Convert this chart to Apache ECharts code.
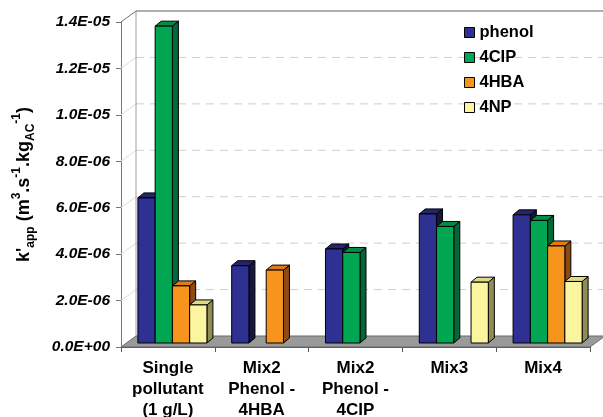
<!DOCTYPE html>
<html>
<head>
<meta charset="utf-8">
<script src="https://cdn.jsdelivr.net/npm/echarts@6/dist/echarts.min.js"></script>
<style>html,body{margin:0;padding:0;background:#fff}#c{width:603px;height:417px}</style>
</head>
<body>
<div id="c"></div>
<script>
var categories = ['Single\npollutant\n(1 g/L)', 'Mix2\nPhenol -\n4HBA', 'Mix2\nPhenol -\n4CIP', 'Mix3', 'Mix4'];
var seriesNames = ['phenol', '4CIP', '4HBA', '4NP'];
var phenol = [6.25e-6, 3.33e-6, 4.05e-6, 5.56e-6, 5.52e-6];
var clp    = [1.365e-5, null, 3.90e-6, 5.02e-6, 5.28e-6];
var hba    = [2.46e-6, 3.14e-6, null, null, 4.18e-6];
var np     = [1.64e-6, null, null, 2.62e-6, 2.65e-6];
var yTickValues = [0, 2e-6, 4e-6, 6e-6, 8e-6, 1e-5, 1.2e-5, 1.4e-5];
var yTickLabels = ['0.0E+00', '2.0E-06', '4.0E-06', '6.0E-06', '8.0E-06', '1.0E-05', '1.2E-05', '1.4E-05'];

var allValues = [phenol, clp, hba, np];
var frontColors = ['#2E3192', '#00A651', '#F7941D', '#FAF59E'];
var topColors   = ['#23266F', '#008C44', '#DE7A18', '#E0DA86'];
var sideColors  = ['#15173F', '#00693A', '#8E4A14', '#8F8C56'];

var FONT = '"Liberation Sans", Arial, sans-serif';
var WALL_DX = 15, WALL_DY = -11;   // back wall depth offset
var BAR_DX = 4.5, BAR_DY = -4;     // bar front plane offset
var SIDE_DX = 6, SIDE_DY = -5;     // bar depth
var BAR_FRAC = 0.184;

function frameRender(params, api) {
  var cs = params.coordSys;
  var x0 = cs.x, x1 = cs.x + cs.width, yT = cs.y, yB = cs.y + cs.height;
  var ch = [];
  ch.push({type: 'polygon', shape: {points: [[x0 + WALL_DX, yT + WALL_DY], [x1 + WALL_DX, yT + WALL_DY], [x1 + WALL_DX, yB + WALL_DY], [x0 + WALL_DX, yB + WALL_DY]]}, style: {fill: '#fff'}});
  for (var i = 1; i < yTickValues.length - 1; i++) {
    var y = api.coord([0, yTickValues[i]])[1];
    ch.push({type: 'line', shape: {x1: x0 + WALL_DX, y1: y + WALL_DY, x2: x1 + WALL_DX, y2: y + WALL_DY}, style: {stroke: '#cfcfcf', lineWidth: 1, lineDash: [8, 6]}});
    ch.push({type: 'line', shape: {x1: x0, y1: y, x2: x0 + WALL_DX, y2: y + WALL_DY}, style: {stroke: '#dddddd', lineWidth: 1}});
  }
  ch.push({type: 'line', shape: {x1: x0 + WALL_DX, y1: yT + WALL_DY, x2: x0 + WALL_DX, y2: yB + WALL_DY}, style: {stroke: '#a0a0a0', lineWidth: 1}});
  ch.push({type: 'line', shape: {x1: x0 + WALL_DX, y1: yT + WALL_DY, x2: x1 + WALL_DX + 20, y2: yT + WALL_DY}, style: {stroke: '#606060', lineWidth: 1}});
  ch.push({type: 'line', shape: {x1: x0, y1: yT, x2: x0 + WALL_DX, y2: yT + WALL_DY}, style: {stroke: '#707070', lineWidth: 1}});
  ch.push({type: 'polygon', shape: {points: [[x0, yB], [x1, yB], [x1 + WALL_DX, yB + WALL_DY], [x0 + WALL_DX, yB + WALL_DY]]}, style: {fill: '#9a9a9a', stroke: '#6a6a6a', lineWidth: 1}});
  return {type: 'group', children: ch};
}

function makeBarRender(si) {
  return function (params, api) {
    var cat = api.value(0), val = api.value(1);
    var base = api.coord([cat, 0]);
    var top = api.coord([cat, val]);
    var catW = api.size([1, 0])[0];
    var bw = catW * BAR_FRAC;
    var xs = base[0] - 2 * bw + BAR_DX + si * bw;
    var xe = xs + bw;
    var yb = base[1] + BAR_DY, yt = top[1] + BAR_DY;
    var st = {stroke: '#000', lineWidth: 1, lineJoin: 'round'};
    return {type: 'group', children: [
      {type: 'polygon', shape: {points: [[xe, yt], [xe + SIDE_DX, yt + SIDE_DY], [xe + SIDE_DX, yb + SIDE_DY], [xe, yb]]}, style: Object.assign({fill: sideColors[si]}, st)},
      {type: 'polygon', shape: {points: [[xs, yt], [xe, yt], [xe + SIDE_DX, yt + SIDE_DY], [xs + SIDE_DX, yt + SIDE_DY]]}, style: Object.assign({fill: topColors[si]}, st)},
      {type: 'rect', shape: {x: xs, y: yt, width: bw, height: yb - yt}, style: Object.assign({fill: frontColors[si]}, st)}
    ]};
  };
}

var series = [{
  type: 'custom', name: 'frame', silent: true, z: 1,
  renderItem: frameRender, data: [[0, 0]], tooltip: {show: false}
}];
for (var s = 0; s < seriesNames.length; s++) {
  var d = [];
  for (var c = 0; c < categories.length; c++) {
    if (allValues[s][c] != null) d.push([c, allValues[s][c]]);
  }
  series.push({
    type: 'custom', name: seriesNames[s], z: 2 + s,
    itemStyle: {color: frontColors[s]},
    renderItem: makeBarRender(s), data: d
  });
}

var chart = echarts.init(document.getElementById('c'), null, {renderer: 'canvas'});
chart.setOption({
  animation: false,
  backgroundColor: '#fff',
  grid: {left: 121, right: 13, top: 22, bottom: 70, containLabel: false, outerBoundsMode: 'none'},
  legend: {
    data: seriesNames, orient: 'vertical', left: 459, top: 19,
    icon: 'rect', itemWidth: 10, itemHeight: 10, itemGap: 8,
    itemStyle: {borderColor: '#000', borderWidth: 1},
    textStyle: {fontFamily: FONT, fontWeight: 'bold', fontSize: 16.5, color: '#000', lineHeight: 16}
  },
  xAxis: {
    type: 'category', data: categories, boundaryGap: true,
    axisLine: {lineStyle: {color: '#555', width: 1}},
    axisTick: {show: true, alignWithLabel: false, length: 5, lineStyle: {color: '#555'}},
    axisLabel: {fontFamily: FONT, fontWeight: 'bold', fontSize: 17, color: '#000', lineHeight: 21, margin: 11, interval: 0},
    splitLine: {show: false}
  },
  yAxis: {
    type: 'value', min: 0, max: 1.4e-5, interval: 2e-6,
    axisLine: {show: true, lineStyle: {color: '#777', width: 1}},
    axisTick: {show: true, length: 5, lineStyle: {color: '#777'}},
    splitLine: {show: false},
    axisLabel: {
      fontFamily: FONT, fontWeight: 'bold', fontStyle: 'italic', fontSize: 15.5, color: '#000', margin: 11,
      formatter: function (v, idx) { return yTickLabels[idx]; }
    },
    name: "{b|k'}{s|app}{b| (m}{p|3}{b|.s}{p|-1}{b|.kg}{s|AC}{p|-1}{b|)}",
    nameLocation: 'middle', nameRotate: 90, nameGap: 84,
    nameTextStyle: {
      rich: {
        b: {fontFamily: FONT, fontWeight: 'bold', fontSize: 18, color: '#000', lineHeight: 26, verticalAlign: 'middle'},
        s: {fontFamily: FONT, fontWeight: 'bold', fontSize: 12, color: '#000', lineHeight: 12, verticalAlign: 'bottom'},
        p: {fontFamily: FONT, fontWeight: 'bold', fontSize: 12, color: '#000', lineHeight: 12, verticalAlign: 'top'}
      }
    }
  },
  series: series
});
</script>
</body>
</html>
